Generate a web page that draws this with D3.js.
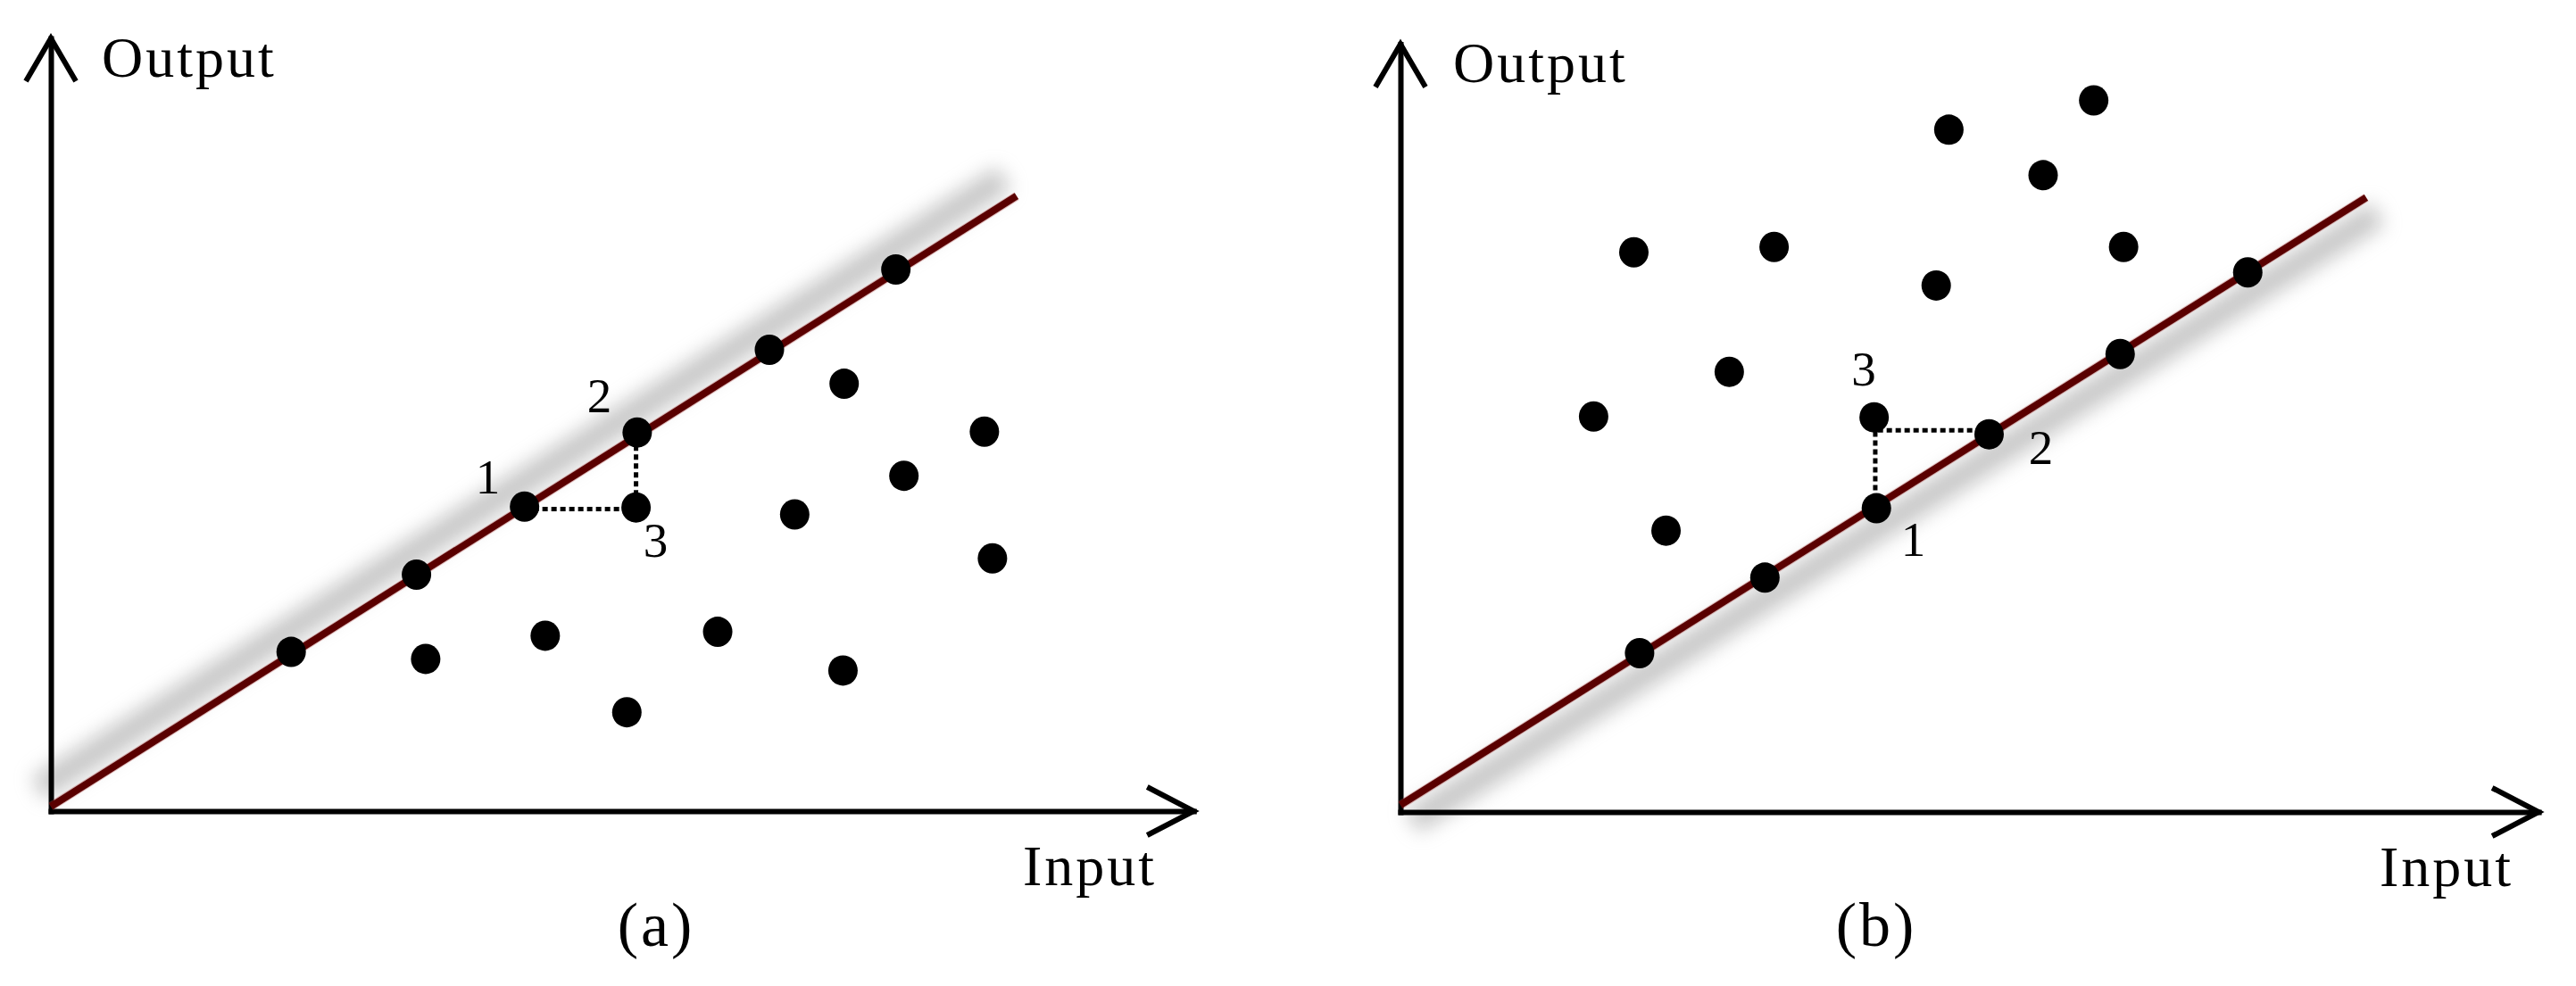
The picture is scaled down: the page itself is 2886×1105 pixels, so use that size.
<!DOCTYPE html>
<html>
<head>
<meta charset="utf-8">
<script src="https://cdn.jsdelivr.net/npm/d3@7"></script>
<style>
  html, body { margin: 0; padding: 0; background: #fff; }
  svg { display: block; }
  text { font-family: "Liberation Serif", "Times New Roman", serif; fill: #000; }
</style>
</head>
<body>
<svg id="chart" width="2886" height="1105"></svg>
<script>
// ---------------- DATA (units: 0-100 along each axis) ----------------
// Panel (a): fitted line and points
const lineA = [[0, 0.6], [84.0, 79.6]];
const onLineA = [[20.9, 20.6], [31.8, 30.6], [41.2, 39.4], [51.0, 49.0], [62.5, 59.7], [73.5, 70.1]];
const offLineA = [[69.0, 55.3], [81.2, 49.1], [74.2, 43.4], [64.7, 38.4], [81.9, 32.7],
                  [43.0, 22.7], [58.0, 23.2], [32.6, 19.7], [68.9, 18.2], [50.1, 12.8], [50.9, 39.3]];
const guideA = [[41.2, 39.1], [50.9, 39.1], [50.9, 49.0]];
const numLabelsA = ["1", "2", "3"];
const numPosA = [[38.0, 41.1], [47.7, 51.6], [52.6, 32.9]];

// Panel (b): fitted line and points
const lineB = [[0, 0.9], [84.0, 79.7]];
const onLineB = [[20.8, 20.6], [31.7, 30.4], [41.4, 39.4], [51.2, 49.0], [62.6, 59.4], [73.7, 70.0]];
const offLineB = [[47.7, 88.5], [60.3, 92.3], [55.9, 82.6], [20.3, 72.6], [32.5, 73.3],
                  [46.6, 68.3], [62.9, 73.3], [28.6, 57.1], [16.8, 51.3], [41.2, 51.2], [23.1, 36.5]];
const guideB = [[41.3, 39.4], [41.3, 49.5], [51.2, 49.5]];
const numLabelsB = ["3", "2", "1"];
const numPosB = [[40.3, 55.3], [55.7, 45.1], [44.6, 33.2]];

// axis extents (arrow tips) in data units
const axisMaxA = [99.4, 100];
const axisMaxB = [99.0, 99.6];

const axisTitles = ["Output", "Input"];
const captions = ["(a)", "(b)"];

// ---------------- LAYOUT ----------------
const svg = d3.select("#chart");
svg.append("rect").attr("width", 2886).attr("height", 1105).attr("fill", "#fff");

const defs = svg.append("defs");
defs.append("filter").attr("id", "soft").attr("x", "-30%").attr("y", "-30%")
    .attr("width", "160%").attr("height", "160%")
  .append("feGaussianBlur").attr("stdDeviation", 11);

const panels = [
  { ox: 57, oy: 909, xLen: 1288, yLen: 866, line: lineA, on: onLineA, off: offLineA, guide: guideA,
    labels: numLabelsA, labelPos: numPosA, shadow: [-14, -20], axisMax: axisMaxA,
    outX: 114, outY: 86, inX: 1146, inY: 992, capX: 735, capY: 1060, caption: captions[0] },
  { ox: 1569, oy: 910, xLen: 1288, yLen: 864, line: lineB, on: onLineB, off: offLineB, guide: guideB,
    labels: numLabelsB, labelPos: numPosB, shadow: [13, 18], axisMax: axisMaxB,
    outX: 1628, outY: 92, inX: 2666, inY: 993, capX: 2102, capY: 1060, caption: captions[1] }
];

panels.forEach(p => {
  const x = d3.scaleLinear().domain([0, 100]).range([p.ox, p.ox + p.xLen]);
  const y = d3.scaleLinear().domain([0, 100]).range([p.oy, p.oy - p.yLen]);
  const xa = x.copy().domain([0, p.axisMax[0]]).range([x(0), x(p.axisMax[0])]);
  const ya = y.copy().domain([0, p.axisMax[1]]).range([y(0), y(p.axisMax[1])]);
  const g = svg.append("g");
  const lineGen = d3.line().x(d => x(d[0])).y(d => y(d[1]));

  // shadow of fitted line
  g.append("path").attr("d", lineGen(p.line))
    .attr("transform", `translate(${p.shadow[0]},${p.shadow[1]})`)
    .attr("stroke", "#909090").attr("stroke-width", 30).attr("fill", "none")
    .attr("opacity", 0.5).attr("filter", "url(#soft)");

  // axes (no ticks) with open arrowheads
  const xAxis = g.append("g").attr("transform", `translate(0,${p.oy})`)
    .call(d3.axisBottom(xa).tickValues([]).tickSizeOuter(0));
  const yAxis = g.append("g").attr("transform", `translate(${p.ox},0)`)
    .call(d3.axisLeft(ya).tickValues([]).tickSizeOuter(0));
  [xAxis, yAxis].forEach(a => a.select(".domain")
    .attr("stroke", "#000").attr("stroke-width", 6).attr("stroke-linecap", "square"));

  const xt = xa(p.axisMax[0]), yt = ya(p.axisMax[1]);
  g.append("path")
    .attr("d", `M${xt - 52},${p.oy - 27}L${xt},${p.oy}L${xt - 52},${p.oy + 27}`)
    .attr("fill", "none").attr("stroke", "#000").attr("stroke-width", 6);
  g.append("path")
    .attr("d", `M${p.ox - 28},${yt + 48}L${p.ox},${yt}L${p.ox + 28},${yt + 48}`)
    .attr("fill", "none").attr("stroke", "#000").attr("stroke-width", 6);

  // fitted line
  g.append("path").attr("d", lineGen(p.line))
    .attr("stroke", "#b04848").attr("stroke-width", 10).attr("fill", "none").attr("opacity", 0.35);
  g.append("path").attr("d", lineGen(p.line))
    .attr("stroke", "#5a0000").attr("stroke-width", 8).attr("fill", "none");

  // dotted guide
  g.append("path").attr("d", lineGen(p.guide))
    .attr("stroke", "#000").attr("stroke-width", 5).attr("fill", "none")
    .attr("stroke-dasharray", "6,4");

  // points
  g.selectAll("ellipse.on").data(p.on).join("ellipse").attr("class", "on")
    .attr("cx", d => x(d[0])).attr("cy", d => y(d[1])).attr("rx", 16.5).attr("ry", 17).attr("fill", "#000");
  g.selectAll("ellipse.off").data(p.off).join("ellipse").attr("class", "off")
    .attr("cx", d => x(d[0])).attr("cy", d => y(d[1])).attr("rx", 16.5).attr("ry", 17).attr("fill", "#000");

  // numeric labels
  g.selectAll("text.num").data(p.labels).join("text").attr("class", "num")
    .attr("x", (d, i) => x(p.labelPos[i][0])).attr("y", (d, i) => y(p.labelPos[i][1]))
    .attr("text-anchor", "middle").attr("font-size", 55).text(d => d);

  // axis titles
  g.append("text").attr("x", p.outX).attr("y", p.outY).attr("font-size", 64)
    .attr("letter-spacing", 3).text(axisTitles[0]);
  g.append("text").attr("x", p.inX).attr("y", p.inY).attr("font-size", 64)
    .attr("letter-spacing", 3).text(axisTitles[1]);
  g.append("text").attr("x", p.capX).attr("y", p.capY).attr("font-size", 70)
    .attr("text-anchor", "middle").attr("letter-spacing", 3).text(p.caption);
});
</script>
</body>
</html>
